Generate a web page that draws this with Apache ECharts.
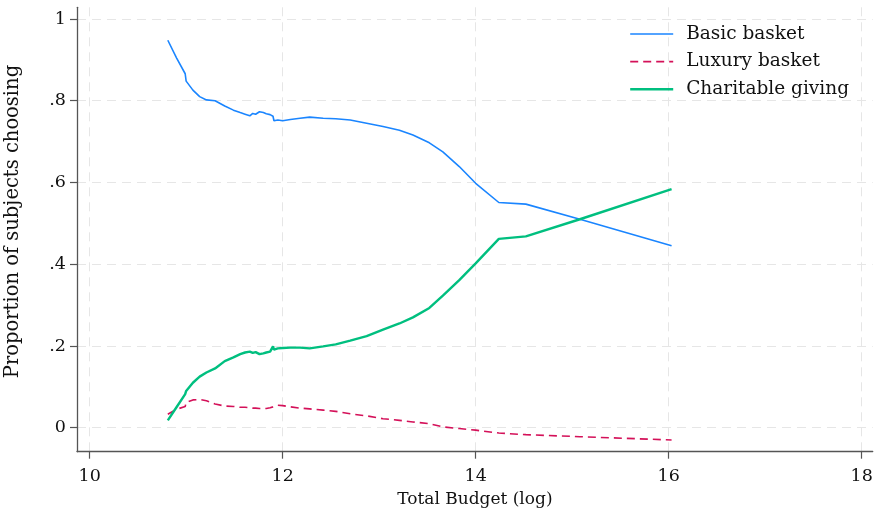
<!DOCTYPE html>
<html>
<head>
<meta charset="utf-8">
<script src="https://cdn.jsdelivr.net/npm/echarts@6/dist/echarts.min.js"></script>
<style>
html,body{margin:0;padding:0;background:#fff;}
#c{width:875px;height:508px;}
</style>
</head>
<body>
<div id="c"></div>
<script>
// Total budget (log)
const budget = [10.81, 10.90, 10.99, 11.00, 11.07, 11.14, 11.21, 11.30, 11.40, 11.49, 11.56, 11.61, 11.66, 11.69, 11.72, 11.76, 11.80, 11.83, 11.87, 11.90, 11.91, 11.95, 12.00, 12.08, 12.18, 12.28, 12.42, 12.55, 12.70, 12.87, 13.04, 13.21, 13.35, 13.52, 13.66, 13.83, 14.00, 14.24, 14.52, 15.08, 16.03];
const basicBasket = [0.948, 0.905, 0.866, 0.848, 0.826, 0.810, 0.802, 0.800, 0.787, 0.777, 0.771, 0.767, 0.763, 0.769, 0.767, 0.773, 0.771, 0.768, 0.766, 0.762, 0.751, 0.753, 0.751, 0.754, 0.757, 0.760, 0.757, 0.756, 0.753, 0.745, 0.737, 0.728, 0.716, 0.697, 0.675, 0.639, 0.598, 0.551, 0.547, 0.510, 0.445];
const luxuryBasket = [0.033, 0.045, 0.052, 0.062, 0.068, 0.069, 0.066, 0.058, 0.053, 0.052, 0.050, 0.050, 0.049, 0.048, 0.048, 0.047, 0.047, 0.047, 0.049, 0.051, 0.055, 0.055, 0.054, 0.051, 0.048, 0.046, 0.043, 0.040, 0.034, 0.029, 0.022, 0.018, 0.014, 0.010, 0.002, -0.002, -0.006, -0.013, -0.017, -0.022, -0.030];
const charitableGiving = [0.018, 0.050, 0.082, 0.090, 0.110, 0.125, 0.135, 0.145, 0.163, 0.172, 0.180, 0.184, 0.186, 0.183, 0.185, 0.180, 0.182, 0.184, 0.186, 0.199, 0.191, 0.194, 0.195, 0.196, 0.196, 0.194, 0.199, 0.204, 0.213, 0.224, 0.240, 0.255, 0.270, 0.293, 0.323, 0.361, 0.402, 0.462, 0.468, 0.510, 0.584];

const seriesNames = ['Basic basket', 'Luxury basket', 'Charitable giving'];
const xTicks = [10, 12, 14, 16, 18];
const yTicks = [0, 0.2, 0.4, 0.6, 0.8, 1];
const yTickLabels = ['0', '.2', '.4', '.6', '.8', '1'];

const FONT = 'DejaVu Serif';
const pairs = arr => budget.map((x, i) => [x, arr[i]]);

const chart = echarts.init(document.getElementById('c'), null, {renderer: 'canvas'});
const gridLine = {show: true, lineStyle: {color: '#e6e6e6', width: 1, type: [9, 6]}};
chart.setOption({
  animation: false,
  backgroundColor: '#fff',
  grid: {left: 77, right: 2.3, top: 7.3, bottom: 56.3, containLabel: false, outerBoundsMode: 'none'},
  legend: {
    orient: 'vertical', left: 629, top: 23, padding: 0,
    itemWidth: 43, itemHeight: 12, itemGap: 5.6,
    itemStyle: {opacity: 0},
    lineStyle: {width: 'inherit'},
    textStyle: {fontFamily: FONT, fontSize: 18.5, color: '#111', lineHeight: 22, padding: [0, 0, 0, 8]},
    data: seriesNames
  },
  xAxis: {
    type: 'value', min: 9.869, max: 18.114,
    name: 'Total Budget (log)', nameLocation: 'middle', nameGap: 34,
    nameTextStyle: {fontFamily: FONT, fontSize: 17, color: '#111'},
    axisLine: {show: true, onZero: false, lineStyle: {color: '#555', width: 1.3}},
    axisTick: {show: true, length: 7, customValues: xTicks, lineStyle: {color: '#555', width: 1.2}},
    axisLabel: {customValues: xTicks, margin: 16, fontFamily: FONT, fontSize: 17.5, color: '#111'},
    splitLine: gridLine
  },
  yAxis: {
    type: 'value', min: -0.0587, max: 1.0286,
    name: 'Proportion of subjects choosing', nameLocation: 'middle', nameGap: 54,
    nameTextStyle: {fontFamily: FONT, fontSize: 19.5, color: '#111', padding: [0, 0, 0, 16]},
    axisLine: {show: true, onZero: false, lineStyle: {color: '#555', width: 1.3}},
    axisTick: {show: true, length: 7, customValues: yTicks, lineStyle: {color: '#555', width: 1.2}},
    axisLabel: {customValues: yTicks, margin: 11, fontFamily: FONT, fontSize: 17.5, color: '#111',
      formatter: v => { const i = yTicks.findIndex(t => Math.abs(t - v) < 1e-9); return i >= 0 ? yTickLabels[i] : ''; }},
    splitLine: gridLine
  },
  series: [
    {name: seriesNames[0], type: 'line', symbol: 'none', data: pairs(basicBasket),
     lineStyle: {color: '#1a85ff', width: 1.6}, itemStyle: {color: '#1a85ff'}},
    {name: seriesNames[1], type: 'line', symbol: 'none', data: pairs(luxuryBasket),
     lineStyle: {color: '#d41159', width: 1.6, type: [8, 5]}, itemStyle: {color: '#d41159'}},
    {name: seriesNames[2], type: 'line', symbol: 'none', data: pairs(charitableGiving),
     lineStyle: {color: '#00bf7f', width: 2.4}, itemStyle: {color: '#00bf7f'}}
  ]
});
</script>
</body>
</html>
